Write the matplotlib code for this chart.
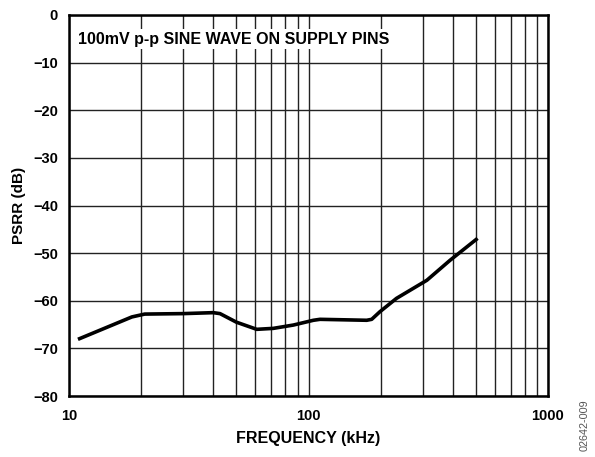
import numpy as np
import matplotlib.pyplot as plt
from matplotlib.ticker import LogLocator, FixedLocator, NullFormatter

plt.rcParams['font.family'] = ['Liberation Sans', 'DejaVu Sans']
plt.rcParams['font.weight'] = 'bold'

# PSRR curve
freq_khz = [10.9, 18.3, 20.7, 30, 40, 42.7, 50, 60.8, 71.3, 86.5, 104.8, 111.7, 140, 175, 183.6, 198.7, 233, 312, 390, 508]
psrr_db = [-68.1, -63.4, -62.8, -62.7, -62.5, -62.7, -64.5, -66.0, -65.8, -65.1, -64.1, -63.9, -64.0, -64.1, -63.9, -62.3, -59.5, -55.7, -51.5, -46.9]

x_ticks = [10, 100, 1000]
x_tick_labels = ['10', '100', '1000']
y_ticks = [0, -10, -20, -30, -40, -50, -60, -70, -80]

fig = plt.figure(figsize=(5.95, 4.57), dpi=100)
ax = fig.add_axes([69/595, 1 - 396/457, (548-69)/595, (396-15)/457])

ax.plot(freq_khz, psrr_db, color='black', lw=2.6, solid_capstyle='butt',
        solid_joinstyle='round', zorder=3)

ax.set_xscale('log')
ax.set_xlim(10, 1000)
ax.set_ylim(-80, 0)
ax.xaxis.set_major_locator(FixedLocator(x_ticks))
ax.set_xticklabels(x_tick_labels)
ax.xaxis.set_minor_locator(LogLocator(base=10, subs=np.arange(2, 10)))
ax.xaxis.set_minor_formatter(NullFormatter())
ax.set_yticks(y_ticks)
ax.set_yticklabels([f'{v}'.replace('-', '\u2212') for v in y_ticks])

ax.grid(True, which='both', color='#222222', lw=1.0)
ax.tick_params(which='both', length=0, labelsize=10.5)
ax.tick_params(axis='x', pad=9)
ax.tick_params(axis='y', pad=8)
for s in ax.spines.values():
    s.set_linewidth(1.8)

ax.set_xlabel('FREQUENCY (kHz)', fontsize=11.5, fontweight='bold', labelpad=6)
ax.set_ylabel('PSRR (dB)', fontsize=11, fontweight='bold', labelpad=5)

ax.text(0.018, 0.937, '100mV p-p SINE WAVE ON SUPPLY PINS', transform=ax.transAxes,
        fontsize=11.5, fontweight='bold', va='center', ha='left',
        bbox=dict(facecolor='white', edgecolor='none', pad=2), zorder=4)

fig.text(0.983, 0.07, '02642-009', rotation=90, fontsize=7.8, fontweight='normal',
         color='#555555', ha='center', va='center')

fig.savefig('out.png', dpi=100)
